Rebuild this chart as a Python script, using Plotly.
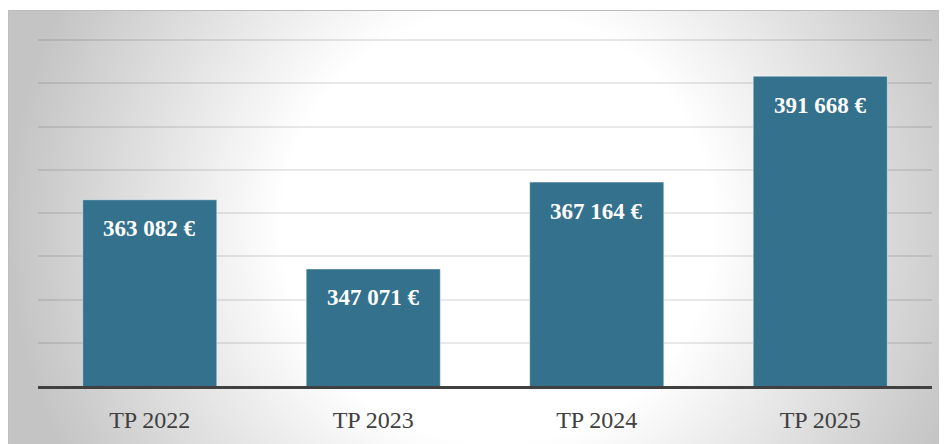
"""Bar chart: TP totals per year, euro labels inside the bars."""

import base64

import plotly.graph_objects as go

categories = ["TP 2022", "TP 2023", "TP 2024", "TP 2025"]
amounts = [363082, 347071, 367164, 391668]

BAR_COLOR = "#33718d"
SERIF = "Palatino Linotype, Book Antiqua, Liberation Serif, DejaVu Serif, serif"

# page body has an 8px margin, so the figure is drawn from (8, 8)
W, H = 939, 436
L, R, T, B = 30, 15, 30, 58


def euro(v):
    return f"{v:,}".replace(",", " ") + " €"


# radial grey->white backdrop as an inline svg (plotly has no radial bg)
bg_w, bg_h = W, H - 2
svg = f"""<svg xmlns="http://www.w3.org/2000/svg" width="{bg_w}" height="{bg_h}"
 viewBox="0 0 {bg_w} {bg_h}" preserveAspectRatio="none">
<defs><radialGradient id="g" gradientUnits="userSpaceOnUse" cx="{bg_w/2 + 20}" cy="{bg_h/2}" r="490">
<stop offset="0" stop-color="#ffffff"/><stop offset="0.44" stop-color="#ffffff"/>
<stop offset="1" stop-color="#c4c4c4"/></radialGradient></defs>
<rect x="0" y="0" width="{bg_w}" height="{bg_h}" fill="url(#g)"/>
<path d="M0.5,{bg_h} L0.5,0.5 L{bg_w},0.5" fill="none" stroke="#bdbdbd" stroke-width="1"/>
</svg>"""
bg_src = "data:image/svg+xml;base64," + base64.b64encode(svg.encode()).decode()

pw, ph = W - L - R, H - T - B

fig = go.Figure(go.Bar(
    x=categories, y=amounts,
    marker=dict(color=BAR_COLOR, line=dict(color="rgba(255,255,255,0.45)", width=1)),
    width=0.6, hoverinfo="skip",
))

for c, v in zip(categories, amounts):
    fig.add_annotation(
        x=c, y=v, text=euro(v), showarrow=False, yshift=-29,
        font=dict(family=SERIF, size=23, color="white", weight="bold"),
    )

fig.add_layout_image(
    source=bg_src, xref="paper", yref="paper",
    x=-L / pw, y=(H - B - 2) / ph,
    sizex=bg_w / pw, sizey=bg_h / ph,
    xanchor="left", yanchor="top", sizing="stretch", layer="below",
)

fig.update_layout(
    width=W, height=H,
    margin=dict(l=L, r=R, t=T, b=B),
    paper_bgcolor="white", plot_bgcolor="rgba(0,0,0,0)",
    showlegend=False,
    font=dict(family=SERIF),
)
fig.update_xaxes(
    showline=True, linecolor="#404040", linewidth=3,
    ticks="outside", ticklen=10, tickcolor="rgba(0,0,0,0)",
    tickfont=dict(family=SERIF, size=24, color="#404040"),
    showgrid=False,
)
fig.update_yaxes(
    range=[320000, 400500], dtick=10000, showticklabels=False,
    showgrid=True, gridcolor="rgba(0,0,0,0.09)", gridwidth=1.5,
    zeroline=False,
)

fig.write_html("out.html")
